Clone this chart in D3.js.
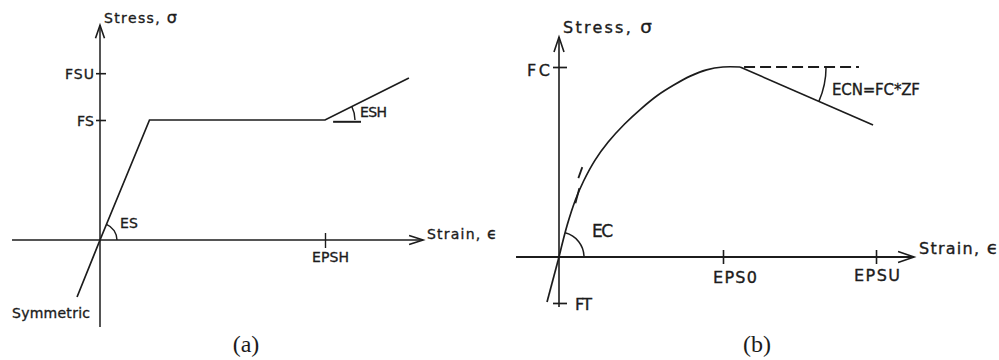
<!DOCTYPE html>
<html>
<head>
<meta charset="utf-8">
<script src="https://cdn.jsdelivr.net/npm/d3@7"></script>
<style>
  html, body { margin: 0; padding: 0; background: #fff; }
  svg { display: block; }
  text { font-family: "DejaVu Sans", sans-serif; fill: #1c1c1c; stroke: #1c1c1c; stroke-width: 0.35px; }
  .cap { font-family: "Liberation Serif", "Times New Roman", serif; stroke: none; }
</style>
</head>
<body>
<svg id="chart" width="999" height="360"></svg>
<script>
// ---------- Panel (a): steel, bilinear with strain hardening ----------
const steelStrain = [-0.102, 0, 0.22, 1.0, 1.373];
const steelStress = [-0.475, 0, 1.0, 1.0, 1.35];
const steelStressTickValues = [1.0, 1.39];
const steelStressTickLabels = ["FS", "FSU"];
const steelStrainTickValues = [1.0];
const steelStrainTickLabels = ["EPSH"];
const steelAxisStrain = [-0.391, 1.436];
const steelAxisStress = [-0.725, 1.79];
const steelEshBaseStrain = [1.036, 1.16];
const steelEshBaseStress = [0.985, 0.985];

// ---------- Panel (b): concrete, parabola + linear softening ----------
const concStrain = [0, 0.05, 0.10, 0.15, 0.22, 0.30, 0.40, 0.50, 0.60, 0.70, 0.80, 0.90, 1.0, 1.104];
const concStress = [0, 0.168, 0.30, 0.40, 0.51, 0.605, 0.70, 0.78, 0.85, 0.905, 0.952, 0.985, 1.0, 1.0];
const concSoftStrain = [1.104, 1.915];
const concSoftStress = [1.0, 0.695];
const concTensStrain = [-0.073, 0];
const concTensStress = [-0.237, 0];
const concPeakDashStrain = [1.104, 1.829];
const concPeakDashStress = [1.0, 1.0];
const concTangentStrain = [[0.100, 0.124], [0.118, 0.142]];
const concTangentStress = [[0.283, 0.362], [0.415, 0.473]];
const concStressTickValues = [1.0, -0.242];
const concStressTickLabels = ["FC", "FT"];
const concStrainTickValues = [1.0, 1.933];
const concStrainTickLabels = ["EPS0", "EPSU"];
const concAxisStrain = [-0.262, 2.165];
const concAxisStress = [-0.263, 1.158];

const svg = d3.select("#chart");
const INK = "#1c1c1c";

function arrowH(g, x, y, len, hw) {
  g.append("path").attr("d", `M${x - len},${y - hw}L${x},${y}L${x - len},${y + hw}`)
    .attr("fill", "none").attr("stroke", INK).attr("stroke-width", 1.6);
}
function arrowV(g, x, y, len, hw) {
  g.append("path").attr("d", `M${x - hw},${y + len}L${x},${y}L${x + hw},${y + len}`)
    .attr("fill", "none").attr("stroke", INK).attr("stroke-width", 1.6);
}
function label(g, txt, x, y, size, anchor, width) {
  const t = g.append("text").attr("x", x).attr("y", y).attr("font-size", size)
    .attr("text-anchor", anchor || "start").text(txt);
  if (width) t.attr("textLength", width).attr("lengthAdjust", "spacing");
  return t;
}
function axisTitle(g, base, sym, x, y, size, width) {
  const t = g.append("text").attr("x", x).attr("y", y).attr("font-size", size)
    .attr("textLength", width).attr("lengthAdjust", "spacing");
  t.append("tspan").text(base);
  t.append("tspan").attr("font-size", size * 1.15).text(sym);
  return t;
}
function arcPath(cx, cy, r, a0, a1) {
  const p = d3.path();
  p.arc(cx, cy, r, -a0, -a1, a1 > a0);
  return p.toString();
}

// ================= PANEL A =================
{
  const g = svg.append("g");
  const x = d3.scaleLinear().domain([0, 1]).range([100, 325]);
  const y = d3.scaleLinear().domain([0, 1]).range([240, 120]);
  const x0 = x(0), y0 = y(0);

  g.append("line").attr("x1", x(steelAxisStrain[0])).attr("x2", x(steelAxisStrain[1]))
    .attr("y1", y0).attr("y2", y0).attr("stroke", INK).attr("stroke-width", 1.7);
  g.append("line").attr("x1", x0).attr("x2", x0)
    .attr("y1", y(steelAxisStress[0])).attr("y2", y(steelAxisStress[1]))
    .attr("stroke", INK).attr("stroke-width", 1.5);
  arrowH(g, x(steelAxisStrain[1]), y0, 14, 4.5);
  arrowV(g, x0, y(steelAxisStress[1]), 13, 4.5);

  const ay = g.append("g").attr("transform", `translate(${x0},0)`)
    .call(d3.axisLeft(y).tickValues(steelStressTickValues).tickSize(0).tickFormat(""));
  ay.select(".domain").remove();
  ay.selectAll(".tick line").attr("x1", -4).attr("x2", 6).attr("stroke", INK).attr("stroke-width", 1.6);
  steelStressTickValues.forEach((v, i) => label(g, steelStressTickLabels[i], x0 - 6, y(v) + 6, 14, "end",
    steelStressTickLabels[i].length === 3 ? 29 : 17));

  const ax = g.append("g").attr("transform", `translate(0,${y0})`)
    .call(d3.axisBottom(x).tickValues(steelStrainTickValues).tickSize(0).tickFormat(""));
  ax.select(".domain").remove();
  ax.selectAll(".tick line").attr("y1", -7).attr("y2", 8).attr("stroke", INK).attr("stroke-width", 1.4);
  steelStrainTickValues.forEach((v, i) => label(g, steelStrainTickLabels[i], x(v) - 13, y0 + 22, 14, "start", 37));

  const line = d3.line().x(d => x(d[0])).y(d => y(d[1]));
  g.append("path").datum(d3.zip(steelStrain, steelStress)).attr("d", line)
    .attr("fill", "none").attr("stroke", INK).attr("stroke-width", 1.7).attr("stroke-linejoin", "miter");

  const esAng = Math.atan2(y0 - y(steelStress[2]), x(steelStrain[2]) - x0);
  g.append("path").attr("d", arcPath(x0, y0, 17, 0, esAng)).attr("fill", "none").attr("stroke", INK).attr("stroke-width", 1.4);
  label(g, "ES", 120, 228, 14, "start", 18);

  const kx = x(steelStrain[3]), ky = y(steelStress[3]);
  const eshAng = Math.atan2(ky - y(steelStress[4]), x(steelStrain[4]) - kx);
  g.append("path").attr("d", arcPath(kx, ky, 30, 0, eshAng)).attr("fill", "none").attr("stroke", INK).attr("stroke-width", 1.4);
  g.append("line").attr("x1", x(steelEshBaseStrain[0])).attr("x2", x(steelEshBaseStrain[1]))
    .attr("y1", y(steelEshBaseStress[0])).attr("y2", y(steelEshBaseStress[1]))
    .attr("stroke", INK).attr("stroke-width", 2);
  label(g, "ESH", 360, 117, 14, "start", 27);

  axisTitle(g, "Stress, ", "σ", 104, 23, 14, 73);
  axisTitle(g, "Strain, ", "ϵ", 427, 239, 14, 70);
  label(g, "Symmetric", 12, 318, 14, "start", 78);
  label(g, "(a)", 246, 352, 24, "middle").attr("class", "cap");
}

// ================= PANEL B =================
{
  const g = svg.append("g");
  const x = d3.scaleLinear().domain([0, 1]).range([559, 723]);
  const y = d3.scaleLinear().domain([0, 1]).range([257, 67]);
  const x0 = x(0), y0 = y(0);

  g.append("line").attr("x1", x(concAxisStrain[0])).attr("x2", x(concAxisStrain[1]))
    .attr("y1", y0).attr("y2", y0).attr("stroke", INK).attr("stroke-width", 1.8);
  g.append("line").attr("x1", x0).attr("x2", x0)
    .attr("y1", y(concAxisStress[0])).attr("y2", y(concAxisStress[1]))
    .attr("stroke", INK).attr("stroke-width", 1.6);
  arrowH(g, x(concAxisStrain[1]), y0, 16, 5.5);
  arrowV(g, x0, y(concAxisStress[1]), 15, 5);

  const ay = g.append("g").attr("transform", `translate(${x0},0)`)
    .call(d3.axisLeft(y).tickValues(concStressTickValues).tickSize(0).tickFormat(""));
  ay.select(".domain").remove();
  ay.selectAll(".tick line").attr("x1", -6).attr("x2", 8).attr("stroke", INK).attr("stroke-width", 1.7);
  label(g, concStressTickLabels[0], x0 - 9, y(concStressTickValues[0]) + 9, 16, "end", 23);
  label(g, concStressTickLabels[1], x0 + 16, y(concStressTickValues[1]) + 7, 16, "start", 17);

  const ax = g.append("g").attr("transform", `translate(0,${y0})`)
    .call(d3.axisBottom(x).tickValues(concStrainTickValues).tickSize(0).tickFormat(""));
  ax.select(".domain").remove();
  ax.selectAll(".tick line").attr("y1", -7).attr("y2", 7).attr("stroke", INK).attr("stroke-width", 1.6);
  label(g, concStrainTickLabels[0], x(concStrainTickValues[0]) - 10, y0 + 26, 16, "start", 44);
  label(g, concStrainTickLabels[1], x(concStrainTickValues[1]) - 22, y0 + 24, 16, "start", 46);

  const curve = d3.line().x(d => x(d[0])).y(d => y(d[1])).curve(d3.curveCatmullRom.alpha(0.5));
  g.append("path").datum(d3.zip(concStrain, concStress)).attr("d", curve)
    .attr("fill", "none").attr("stroke", INK).attr("stroke-width", 1.7);
  const line = d3.line().x(d => x(d[0])).y(d => y(d[1]));
  g.append("path").datum(d3.zip(concSoftStrain, concSoftStress)).attr("d", line)
    .attr("fill", "none").attr("stroke", INK).attr("stroke-width", 1.7);
  g.append("path").datum(d3.zip(concTensStrain, concTensStress)).attr("d", line)
    .attr("fill", "none").attr("stroke", INK).attr("stroke-width", 1.7);
  g.append("path").datum(d3.zip(concPeakDashStrain, concPeakDashStress)).attr("d", line)
    .attr("fill", "none").attr("stroke", INK).attr("stroke-width", 1.9).attr("stroke-dasharray", "11,5")
    .attr("stroke-dashoffset", -4);
  concTangentStrain.forEach((s, i) => {
    g.append("path").datum(d3.zip(s, concTangentStress[i])).attr("d", line)
      .attr("fill", "none").attr("stroke", INK).attr("stroke-width", 1.8);
  });

  const ecAng = Math.atan2(y0 - y(concStress[1]), x(concStrain[1]) - x0);
  g.append("path").attr("d", arcPath(x0, y0, 25, 0, ecAng)).attr("fill", "none").attr("stroke", INK).attr("stroke-width", 1.5);
  label(g, "EC", 592, 237, 17, "start", 21);

  const px = x(concSoftStrain[0]), py = y(concSoftStress[0]);
  const ecnAng = Math.atan2(py - y(concSoftStress[1]), x(concSoftStrain[1]) - px);
  g.append("path").attr("d", arcPath(px, py, 86, 0, ecnAng)).attr("fill", "none").attr("stroke", INK).attr("stroke-width", 1.5);
  label(g, "ECN=FC*ZF", 832, 95, 15, "start", 88);

  axisTitle(g, "Stress, ", "σ", 563, 33, 16, 89);
  axisTitle(g, "Strain, ", "ϵ", 919, 254, 16, 79);
  label(g, "(b)", 757, 352, 24, "middle").attr("class", "cap");
}
</script>
</body>
</html>
